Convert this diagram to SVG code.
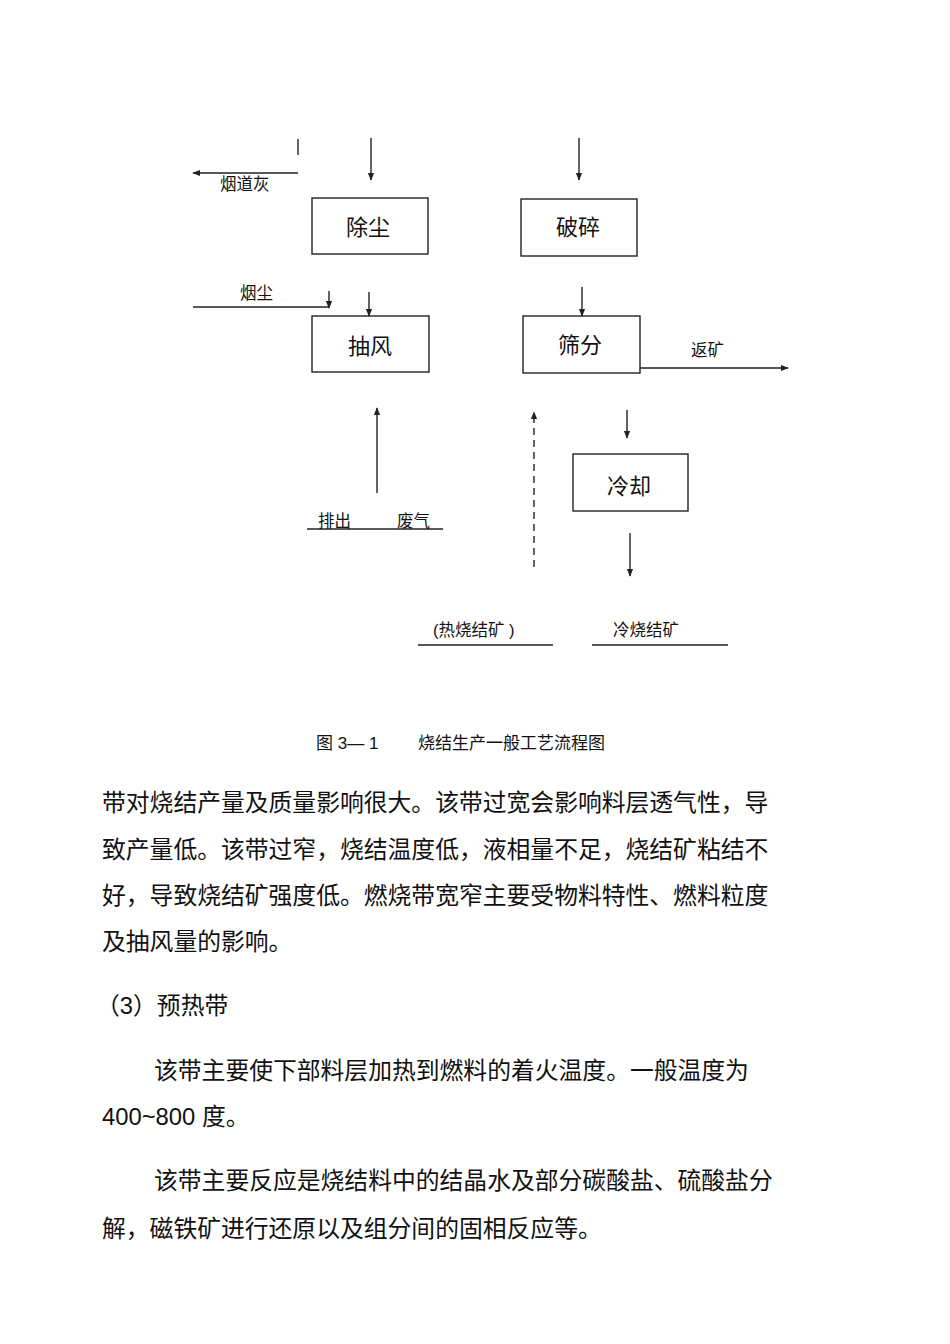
<svg xmlns="http://www.w3.org/2000/svg" width="950" height="1344" viewBox="0 0 950 1344">
<style>
.box{fill:#fff;stroke:#222;stroke-width:1.4}
.ln{fill:none;stroke:#222;stroke-width:1.4}
.ar{fill:none;stroke:#222;stroke-width:1.4;marker-end:url(#ah)}
.dash{stroke-dasharray:7 5}
.t{font-family:"Liberation Sans","Noto Sans CJK SC",sans-serif;fill:#111}
.bl{font-size:22px;text-anchor:middle}
.sl{font-size:16.5px}
.cap{font-size:17px}
.body{font-size:23.8px}
</style>
<defs>
<marker id="ah" viewBox="0 0 10 10" refX="9" refY="5" markerWidth="8" markerHeight="8" markerUnits="userSpaceOnUse" orient="auto">
<path d="M0,1 L10,5 L0,9 z" fill="#222"/>
</marker>
</defs>
<rect width="950" height="1344" fill="#fff"/>

<g id="n-chuchen"><rect class="box" x="312" y="198" width="116" height="56"/><text class="t bl" x="368" y="235">除尘</text></g>
<g id="n-choufeng"><rect class="box" x="312" y="316" width="117" height="56"/><text class="t bl" x="370" y="354">抽风</text></g>
<g id="n-posui"><rect class="box" x="521" y="199" width="116" height="57"/><text class="t bl" x="578" y="235">破碎</text></g>
<g id="n-shaifen"><rect class="box" x="523" y="316" width="117" height="57"/><text class="t bl" x="580" y="353">筛分</text></g>
<g id="n-lengque"><rect class="box" x="573" y="454" width="115" height="57"/><text class="t bl" x="629" y="494">冷却</text></g>

<g id="connectors">
<line class="ar" x1="371" y1="138" x2="371" y2="180"/>
<line class="ln" x1="298" y1="139" x2="298" y2="155"/>
<line class="ar" x1="298" y1="173" x2="193" y2="173"/>
<line class="ln" x1="193" y1="307" x2="329" y2="307"/>
<line class="ar" x1="329" y1="291" x2="329" y2="308"/>
<line class="ar" x1="369" y1="292" x2="369" y2="316"/>
<line class="ar" x1="579" y1="138" x2="579" y2="180"/>
<line class="ar" x1="582" y1="287" x2="582" y2="316"/>
<line class="ar" x1="640" y1="368" x2="788" y2="368"/>
<line class="ar" x1="377" y1="493" x2="377" y2="408"/>
<line class="ln" x1="307" y1="529" x2="443" y2="529"/>
<line class="ar dash" x1="534" y1="567" x2="534" y2="412"/>
<line class="ar" x1="627" y1="410" x2="627" y2="438"/>
<line class="ar" x1="630" y1="533" x2="630" y2="576"/>
<line class="ln" x1="418" y1="645" x2="553" y2="645"/>
<line class="ln" x1="592" y1="645" x2="728" y2="645"/>
</g>

<g id="labels">
<text class="t sl" x="220" y="190">烟道灰</text>
<text class="t sl" x="240" y="299">烟尘</text>
<text class="t sl" x="691" y="356">返矿</text>
<text class="t sl" x="318" y="527">排出</text>
<text class="t sl" x="397" y="527">废气</text>
<text class="t sl" x="433" y="636">(热烧结矿 )</text>
<text class="t sl" x="613" y="636">冷烧结矿</text>
</g>

<g id="caption">
<text class="t cap" x="316" y="749">图 3— 1</text>
<text class="t cap" x="418" y="749">烧结生产一般工艺流程图</text>
</g>

<g id="body">
<text class="t body" x="102" y="811">带对烧结产量及质量影响很大。该带过宽会影响料层透气性，导</text>
<text class="t body" x="102" y="858">致产量低。该带过窄，烧结温度低，液相量不足，烧结矿粘结不</text>
<text class="t body" x="102" y="904">好，导致烧结矿强度低。燃烧带宽窄主要受物料特性、燃料粒度</text>
<text class="t body" x="102" y="950">及抽风量的影响。</text>
<text class="t body" x="96" y="1014">（3）预热带</text>
<text class="t body" x="154" y="1079">该带主要使下部料层加热到燃料的着火温度。一般温度为</text>
<text class="t body" x="102" y="1125">400~800 度。</text>
<text class="t body" x="154" y="1189">该带主要反应是烧结料中的结晶水及部分碳酸盐、硫酸盐分</text>
<text class="t body" x="102" y="1237">解，磁铁矿进行还原以及组分间的固相反应等。</text>
</g>
</svg>
